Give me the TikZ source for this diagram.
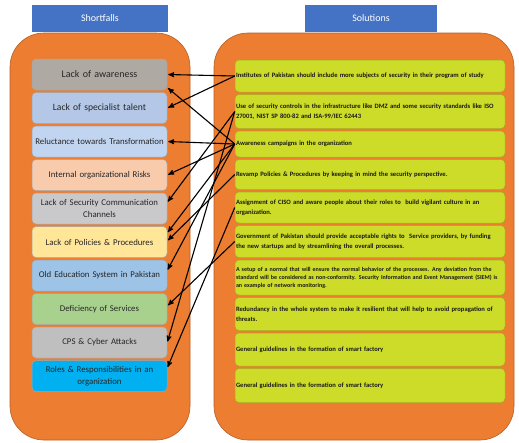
\documentclass[tikz,border=0pt]{standalone}
\usepackage{fontspec}
\setmainfont{Carlito}
\usetikzlibrary{arrows,positioning}
\hyphenpenalty=10000

\definecolor{panelorange}{HTML}{ED7D31}
\definecolor{headblue}{HTML}{4472C4}
\definecolor{fixgreen}{HTML}{CDDC29}
\definecolor{lackc}{HTML}{AFA9A3}
\definecolor{talentc}{HTML}{B4C7E7}
\definecolor{reluctc}{HTML}{C2D5F0}
\definecolor{risksc}{HTML}{F8CBAD}
\definecolor{chanc}{HTML}{C9C9CC}
\definecolor{policyc}{HTML}{FFE699}
\definecolor{oldeduc}{HTML}{9DC3E6}
\definecolor{deficitc}{HTML}{A9D18E}
\definecolor{cpsc}{HTML}{BFBFBF}
\definecolor{rolesc}{HTML}{00B0F0}

\begin{document}
\begin{tikzpicture}[
                    x=1pt, y=-1pt,
                    ->,
                    >=stealth',
                    shorten >=1pt,
                    line width=1.1pt,
                    node distance=2pt
                ]
                \tikzstyle{panel}=[-,fill=panelorange,draw=panelorange!75!black,line width=0.6pt,rounded corners=34pt]
                \tikzstyle{head}=[fill=headblue,text=white,minimum height=27pt,inner sep=0pt,font=\fontsize{10}{12}\selectfont]
                \tikzstyle{fault}=[draw=black!35,line width=0.5pt,rounded corners=4pt,minimum width=135pt,minimum height=31pt,text width=132pt,inner sep=1pt,align=center,text=black!85,font=\fontsize{8.8}{12.5}\selectfont]
                \tikzstyle{fix}=[fill=fixgreen,draw=fixgreen!80!black,line width=0.5pt,rounded corners=4pt,minimum width=270pt,text width=268pt,inner sep=1pt,align=left,text=black!90,font=\bfseries\fontsize{6.6}{9.5}\selectfont]

                \useasboundingbox (0,0) rectangle (519,442);

                % the two panels
                \draw[panel] (10,33) rectangle (190,440);
                \draw[panel] (214,33) rectangle (514,440);

                \node[head,minimum width=136pt] (shortfalls) at (100,18.5) {Shortfalls};
                \node[head,minimum width=132pt] (solutions)  at (371,18.5) {Solutions};

                % shortfalls
                \node[fault,fill=lackc,font=\fontsize{10}{12.5}\selectfont]    (lack) at (99.5,74.5) {Lack of awareness};
                \node[fault,fill=talentc,font=\fontsize{9.6}{12.5}\selectfont] (talent)   [below=of lack]     {Lack of specialist talent};
                \node[fault,fill=reluctc]  (reluct)   [below=of talent]   {Reluctance towards Transformation};
                \node[fault,fill=risksc]   (risks)    [below=of reluct]   {Internal organizational Risks};
                \node[fault,fill=chanc]    (channels) [below=of risks]    {Lack of Security Communication\\Channels};
                \node[fault,fill=policyc]  (policy)   [below=of channels] {Lack of Policies \& Procedures};
                \node[fault,fill=oldeduc]  (oldedu)   [below=of policy]   {Old Education System in Pakistan};
                \node[fault,fill=deficitc] (deficit)  [below=of oldedu]   {Deficiency of Services};
                \node[fault,fill=cpsc]     (cps)      [below=of deficit]  {CPS \& Cyber Attacks};
                \node[fault,fill=rolesc]   (roles)    [below=of cps]      {Roles \& Responsibilities in an\\organization};

                % solutions
                \node[fix,minimum height=32pt] (inst)   at (370,76) {Institutes of Pakistan should include more subjects of security in their program of study};
                \node[fix,minimum height=34pt] (ctrl)   [below=of inst]   {Use of security controls in the infrastructure like DMZ and some security standards like ISO\\27001, NIST SP 800-82 and ISA-99/IEC 62443};
                \node[fix,minimum height=26pt] (aware)  [below=of ctrl]   {Awareness campaigns in the organization};
                \node[fix,minimum height=30pt] (revamp) [below=of aware]  {Revamp Policies \& Procedures by keeping in mind the security perspective.};
                \node[fix,minimum height=31pt] (ciso)   [below=of revamp] {Assignment of CISO and aware people about their roles to\ \ build vigilant culture in an\\organization.};
                \node[fix,minimum height=32pt] (govt)   [below=of ciso]   {Government of Pakistan should provide acceptable rights to\ \ Service providers, by funding\\the new startups and by streamlining the overall processes.};
                \node[fix,minimum height=35pt,font=\bfseries\fontsize{6}{8}\selectfont] (setup) [below=of govt] {A setup of a normal that will ensure the normal behavior of the processes. Any deviation from the\\standard will be considered as non-conformity. Security Information and Event Management (SIEM) is\\an example of network monitoring.};
                \node[fix,minimum height=33pt] (redund) [below=of setup]  {Redundancy in the whole system to make it resilient that will help to avoid propagation of\\threats.};
                \node[fix,minimum height=33pt] (guide)  [below=of redund] {General guidelines in the formation of smart factory};
                \node[fix,minimum height=34pt] (factory)[below=of guide]  {General guidelines in the formation of smart factory};

                \path
                (inst.west)   edge (lack.east)
                (inst.west)   edge (talent.east)
                (aware.west)  edge ([yshift=-13pt]lack.east)
                (aware.west)  edge (reluct.east)
                (aware.west)  edge (risks.east)
                (aware.west)  edge ([yshift=9pt]policy.east)
                (aware.west)  edge ([yshift=5pt]oldedu.east)
                (ctrl.west)   edge ([yshift=6pt]channels.east)
                (ctrl.west)   edge (cps.east)
                (revamp.west) edge ([yshift=1pt]policy.east)
                (ciso.west)   edge ([yshift=8pt]roles.east)
                (govt.west)   edge ([yshift=3pt]deficit.east)
                ;
            \end{tikzpicture}
\end{document}
